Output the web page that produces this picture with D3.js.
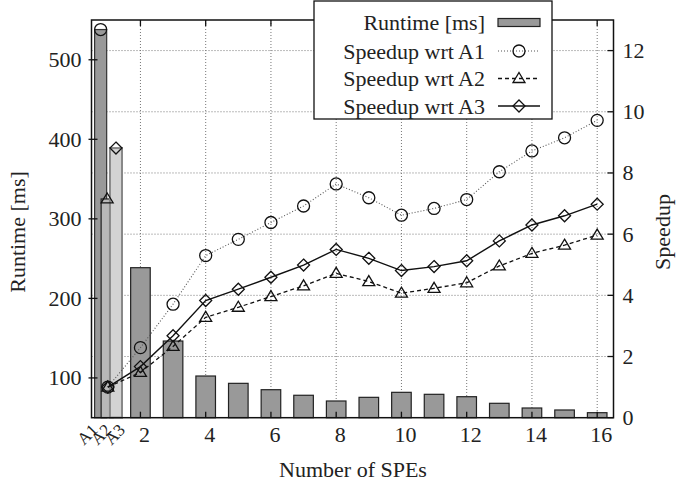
<!DOCTYPE html>
<html><head><meta charset="utf-8">
<script src="https://cdn.jsdelivr.net/npm/d3@7"></script>
<style>
html,body{margin:0;padding:0;background:#fff;}
svg{display:block;}
text{font-family:"Liberation Serif","DejaVu Serif",serif;fill:#222;}
</style></head>
<body>
<svg id="chart" width="678" height="484"></svg>
<script>
// ---- data ----
const speCounts = [2,3,4,5,6,7,8,9,10,11,12,13,14,15,16];
const runtime = [238.6,146.4,102.4,93.2,85.2,78.2,71,75.6,81.9,79.4,76.4,68.1,62.2,59.7,56.3];
const aLabels = ["A1","A2","A3"];
const aPos = [0.78,0.98,1.25];
const aLabelPos = [0.72,1.14,1.56];
const aRuntime = [538,325,389];
const speedupX = [1,2,3,4,5,6,7,8,9,10,11,12,13,14,15,16];
const speedupA1 = [1.0,2.29,3.71,5.30,5.83,6.38,6.92,7.64,7.19,6.62,6.84,7.13,8.04,8.72,9.15,9.72];
const speedupA2 = [1.0,1.48,2.33,3.28,3.61,3.96,4.31,4.72,4.45,4.07,4.23,4.41,4.96,5.37,5.64,5.97];
const speedupA3 = [1.0,1.67,2.68,3.83,4.20,4.59,4.99,5.50,5.21,4.81,4.94,5.13,5.78,6.30,6.60,6.98];
const xTicks = [2,4,6,8,10,12,14,16];
const runtimeTicks = [100,200,300,400,500];
const speedupTicks = [0,2,4,6,8,10,12];
const legendLabels = ["Runtime [ms]","Speedup wrt A1","Speedup wrt A2","Speedup wrt A3"];

// ---- layout ----
const L = 91.5, R = 613.5, T = 20, B = 417.7;
const svg = d3.select("#chart");
const x = d3.scaleLinear().domain([0.5,16.5]).range([L,R]);
const yRun = d3.scaleLinear().domain([50,550]).range([B,T]);
const ySp = d3.scaleLinear().domain([0,13]).range([B,T]);
const barW = x(0.6) - x(0);
const aBarW = x(0.37) - x(0);
const gridColor = "#777";

// grid
const grid = svg.append("g");
grid.selectAll("line.v").data(xTicks).join("line")
  .attr("x1",d=>x(d)).attr("x2",d=>x(d)).attr("y1",T).attr("y2",B)
  .attr("stroke",gridColor).attr("stroke-width",1).attr("stroke-dasharray","1,2");
grid.selectAll("line.h").data(speedupTicks.filter(d=>d>0)).join("line")
  .attr("x1",L).attr("x2",R).attr("y1",d=>ySp(d)).attr("y2",d=>ySp(d))
  .attr("stroke",gridColor).attr("stroke-width",1).attr("stroke-dasharray","1,2");

// A bars
const aFill = ["#999999","#b8b8b8","#d3d3d3"];
const aStroke = ["#333","#222","#888"];
svg.append("g").selectAll("rect").data(aLabels).join("rect")
  .attr("x",(d,i)=>x(aPos[i])-aBarW/2).attr("width",aBarW)
  .attr("y",(d,i)=>yRun(aRuntime[i])).attr("height",(d,i)=>B-yRun(aRuntime[i]))
  .attr("fill",(d,i)=>aFill[i]).attr("stroke",(d,i)=>aStroke[i]).attr("stroke-width",(d,i)=>i===2?2:1.2);

// main bars
svg.append("g").selectAll("rect").data(speCounts).join("rect")
  .attr("x",d=>x(d)-barW/2).attr("width",barW)
  .attr("y",(d,i)=>yRun(runtime[i])).attr("height",(d,i)=>B-yRun(runtime[i]))
  .attr("fill","#999999").attr("stroke","#222").attr("stroke-width",1.2);

// markers
function circlePath(cx,cy){ const r=6; return `M${cx-r},${cy}a${r},${r} 0 1,0 ${2*r},0a${r},${r} 0 1,0 ${-2*r},0Z`; }
function triPath(cx,cy){ return `M${cx},${cy-6}L${cx+6},${cy+4}L${cx-6},${cy+4}Z`; }
function diaPath(cx,cy){ return `M${cx},${cy-6}L${cx+6},${cy}L${cx},${cy+6}L${cx-6},${cy}Z`; }
const markerFns = [circlePath, triPath, diaPath];

// markers on A bar tops
svg.append("g").selectAll("path").data(aLabels).join("path")
  .attr("d",(d,i)=>markerFns[i](x(aPos[i]), yRun(aRuntime[i])))
  .attr("fill","none").attr("stroke","#111").attr("stroke-width",1.3);

// speedup series
const series = [
  {vals:speedupA1, dash:"1,2", color:"#555", width:1.1, m:circlePath},
  {vals:speedupA2, dash:"4,3", color:"#111", width:1.3, m:triPath},
  {vals:speedupA3, dash:null, color:"#111", width:1.4, m:diaPath}
];
const line = d3.line().x(d=>x(d[0])).y(d=>ySp(d[1]));
series.forEach(s=>{
  const pts = speedupX.map((v,i)=>[v,s.vals[i]]);
  svg.append("path").attr("d",line(pts)).attr("fill","none")
    .attr("stroke",s.color).attr("stroke-width",s.width)
    .attr("stroke-dasharray",s.dash);
  svg.append("g").selectAll("path").data(pts).join("path")
    .attr("d",d=>s.m(x(d[0]),ySp(d[1])))
    .attr("fill","none").attr("stroke","#111").attr("stroke-width",1.3);
});

// border
svg.append("rect").attr("x",L).attr("y",T).attr("width",R-L).attr("height",B-T)
  .attr("fill","none").attr("stroke","#111").attr("stroke-width",1.5);

// ticks
const tk = svg.append("g").attr("stroke","#111").attr("stroke-width",1.3);
tk.selectAll("line.l").data(runtimeTicks).join("line")
  .attr("x1",L-3).attr("x2",L+6).attr("y1",d=>yRun(d)).attr("y2",d=>yRun(d));
tk.selectAll("line.r").data(speedupTicks).join("line")
  .attr("x1",R-6).attr("x2",R).attr("y1",d=>ySp(d)).attr("y2",d=>ySp(d));
tk.selectAll("line.t").data(xTicks).join("line")
  .attr("x1",d=>x(d)).attr("x2",d=>x(d)).attr("y1",T).attr("y2",T+6);
tk.selectAll("line.b").data(xTicks).join("line")
  .attr("x1",d=>x(d)).attr("x2",d=>x(d)).attr("y1",B).attr("y2",B-6);

// tick labels
const fs = 22;
svg.append("g").selectAll("text").data(runtimeTicks).join("text")
  .attr("x",L-10).attr("y",d=>yRun(d)+7.5).attr("text-anchor","end")
  .attr("font-size",fs).text(d=>d);
svg.append("g").selectAll("text").data(speedupTicks).join("text")
  .attr("x",R+9).attr("y",d=>ySp(d)+7.5).attr("text-anchor","start")
  .attr("font-size",fs).text(d=>d);
svg.append("g").selectAll("text").data(xTicks).join("text")
  .attr("x",d=>x(d)+4).attr("y",442).attr("text-anchor","middle")
  .attr("font-size",fs).text(d=>d);
svg.append("g").selectAll("text").data(aLabels).join("text")
  .attr("transform",(d,i)=>`translate(${x(aLabelPos[i])},${431}) rotate(-45)`)
  .attr("text-anchor","end").attr("font-size",17).text(d=>d);

// axis titles
svg.append("text").attr("transform",`translate(25,232) rotate(-90)`)
  .attr("text-anchor","middle").attr("font-size",fs).text("Runtime [ms]");
svg.append("text").attr("transform",`translate(670,232) rotate(-90)`)
  .attr("text-anchor","middle").attr("font-size",fs).text("Speedup");
svg.append("text").attr("x",353).attr("y",477)
  .attr("text-anchor","middle").attr("font-size",fs).text("Number of SPEs");

// legend
const lg = svg.append("g");
lg.append("rect").attr("x",314).attr("y",1).attr("width",238).attr("height",118)
  .attr("fill","#fff").attr("stroke","#111").attr("stroke-width",1.3);
const rowY = [22.5,51,78.5,106];
lg.selectAll("text").data(legendLabels).join("text")
  .attr("x",485).attr("y",(d,i)=>rowY[i]+7.5).attr("text-anchor","end")
  .attr("font-size",fs).text(d=>d);
lg.append("rect").attr("x",498).attr("y",rowY[0]-4).attr("width",42).attr("height",8)
  .attr("fill","#999").attr("stroke","#222").attr("stroke-width",1.2);
series.forEach((s,i)=>{
  const cy = rowY[i+1];
  lg.append("line").attr("x1",498).attr("x2",540).attr("y1",cy).attr("y2",cy)
    .attr("stroke",s.color).attr("stroke-width",s.width).attr("stroke-dasharray",s.dash);
  lg.append("path").attr("d",s.m(519,cy)).attr("fill","none").attr("stroke","#111").attr("stroke-width",1.3);
});
</script>
</body></html>
